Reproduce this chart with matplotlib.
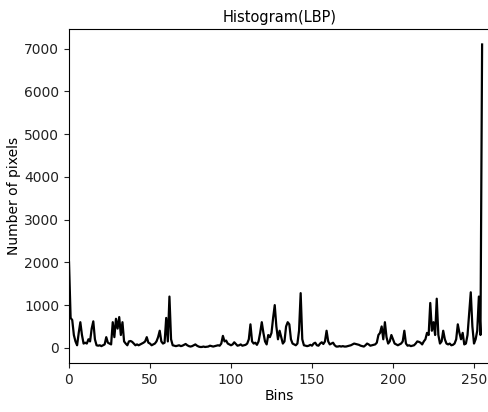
import matplotlib
matplotlib.use("Agg")
import matplotlib.pyplot as plt
import numpy as np

bins = np.arange(256)
counts = [
    2000, 700, 650, 300, 150, 60, 350, 600, 300, 100,
    120, 100, 200, 150, 450, 620, 200, 60, 50, 60,
    40, 60, 80, 250, 120, 100, 80, 600, 250, 680,
    450, 720, 300, 600, 150, 100, 60, 150, 160, 140,
    100, 60, 80, 60, 80, 100, 120, 150, 250, 120,
    100, 60, 80, 100, 150, 250, 400, 150, 100, 120,
    700, 150, 1200, 200, 60, 50, 40, 50, 60, 40,
    50, 70, 90, 60, 40, 30, 40, 60, 80, 50,
    30, 20, 20, 30, 20, 25, 30, 50, 40, 30,
    40, 50, 60, 50, 100, 280, 150, 170, 100, 80,
    60, 80, 130, 90, 50, 60, 80, 50, 60, 70,
    100, 200, 550, 150, 100, 120, 70, 150, 350, 600,
    350, 150, 80, 300, 250, 350, 700, 1000, 500, 200,
    400, 250, 100, 150, 500, 600, 550, 200, 100, 80,
    60, 100, 400, 1280, 200, 60, 50, 40, 50, 70,
    50, 100, 120, 60, 50, 100, 130, 90, 150, 400,
    150, 80, 100, 120, 60, 30, 30, 40, 30, 40,
    30, 30, 40, 50, 60, 80, 100, 90, 80, 70,
    50, 40, 30, 60, 100, 80, 50, 60, 70, 80,
    120, 300, 350, 500, 200, 600, 250, 100, 150, 300,
    200, 100, 80, 60, 80, 100, 150, 400, 100, 50,
    60, 40, 50, 60, 100, 150, 140, 120, 80, 150,
    200, 350, 300, 1050, 400, 600, 300, 1150, 300, 100,
    150, 400, 200, 100, 80, 100, 60, 70, 100, 200,
    550, 350, 200, 350, 80, 100, 300, 800, 1300, 500,
    100, 200, 400, 1200, 300, 7100,
]

title = "Histogram(LBP)"
xlabel = "Bins"
ylabel = "Number of pixels"

fig = plt.figure(figsize=(4.89, 4.12), dpi=100)
ax = fig.add_axes([69/489, 49/412, (490.2-69)/489, (363-29.3)/412])
ax.plot(bins, counts, color="black", lw=1.6)
ax.set_xlim(0, 260)
ax.set_ylim(-355, 7455)
ax.set_xticks([0, 50, 100, 150, 200, 250])
ax.set_yticks([0, 1000, 2000, 3000, 4000, 5000, 6000, 7000])
ax.tick_params(labelsize=10, colors="#222222")
ax.set_title(title, fontsize=10.5, pad=5)
ax.set_xlabel(xlabel, fontsize=10, labelpad=2)
ax.set_ylabel(ylabel, fontsize=10, labelpad=2)
fig.savefig("out.png", dpi=100)
